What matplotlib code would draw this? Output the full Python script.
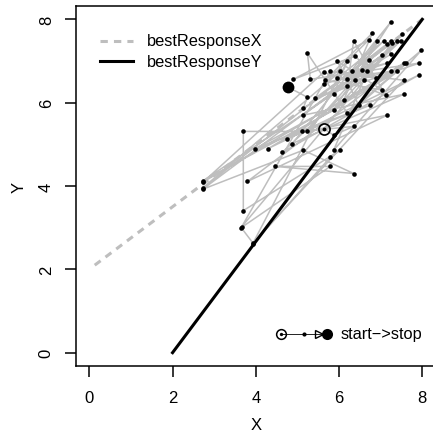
import numpy as np
import matplotlib
matplotlib.use("Agg")
import matplotlib.pyplot as plt

plt.rcParams["font.family"] = ["Liberation Sans", "DejaVu Sans"]

# best response lines
brx_x = [0.13, 8.0]
brx_y = [2.10, 8.0]
bry_x = [2.0, 8.0]
bry_y = [0.0, 8.0]

# path of play (start -> stop)
path_x = [5.63, 5.87, 6.35, 5.12, 3.70, 3.70, 6.03, 5.79, 3.94, 3.65,
          5.79, 4.47, 6.35, 5.14, 2.72, 6.56, 5.24, 7.16, 3.80, 7.55,
          4.76, 6.75, 3.99, 7.40, 4.30, 7.91, 4.64, 7.48, 5.14, 7.55,
          4.88, 7.24, 5.87, 2.74, 6.68, 5.87, 7.98, 6.20, 5.24, 5.31,
          7.93, 5.43, 7.52, 6.11, 6.80, 5.67, 7.04, 5.96, 6.47, 7.62,
          2.74, 5.63, 7.12, 6.35, 6.20, 7.40, 3.66, 5.79, 7.55, 3.94,
          6.20, 5.87, 7.24, 2.72, 6.03, 6.88, 6.39, 4.90, 6.71, 5.63,
          7.16, 6.32, 7.07, 5.96, 7.24, 6.39, 6.92, 6.20, 7.04, 6.59,
          7.28, 6.71, 7.16, 7.24, 5.14, 5.24, 4.78]
path_y = [5.38, 5.22, 5.43, 5.31, 5.31, 3.41, 4.86, 4.69, 2.62, 3.00,
          4.47, 4.47, 4.30, 4.86, 3.92, 6.78, 5.31, 5.70, 4.11, 6.95,
          5.14, 5.94, 4.90, 6.75, 4.90, 6.66, 4.81, 7.48, 5.70, 6.20,
          5.02, 7.93, 5.82, 4.13, 6.75, 4.86, 7.26, 5.75, 7.19, 6.56,
          6.95, 6.11, 7.64, 6.06, 7.67, 6.54, 6.30, 7.00, 5.94, 6.95,
          4.10, 6.73, 6.18, 7.48, 6.39, 7.48, 3.02, 6.75, 6.54, 2.64,
          7.00, 6.20, 7.48, 3.95, 6.75, 6.59, 7.12, 6.56, 7.50, 6.44,
          6.95, 6.75, 7.48, 6.59, 6.75, 6.54, 7.48, 6.56, 7.14, 6.54,
          7.43, 7.02, 7.40, 7.16, 5.87, 6.13, 6.37]

ticks = [0, 2, 4, 6, 8]

fig = plt.figure(figsize=(4.33, 4.39), dpi=100)
ax = fig.add_axes([76 / 433, 72 / 439, 359.6 / 433, 360 / 439])

ax.plot(brx_x, brx_y, color="#BEBEBE", lw=2.2, ls=(0, (2.4, 2.0)), zorder=1)
ax.plot(bry_x, bry_y, color="black", lw=2.2, zorder=3)

ax.plot(path_x, path_y, color="#BEBEBE", lw=1.1, zorder=2)
ax.plot(path_x[1:-1], path_y[1:-1], "o", color="black", ms=3.3, mew=0, zorder=4)

# start and stop markers
ax.plot(path_x[0], path_y[0], "o", mfc="none", mec="black", ms=8, mew=1.2, zorder=5)
ax.plot(path_x[0], path_y[0], "o", color="black", ms=2.8, mew=0, zorder=5)
ax.plot(path_x[-1], path_y[-1], "o", color="black", ms=8.5, mew=0, zorder=5)

# legends
ax.plot([0.067, 0.159], [0.903, 0.903], transform=ax.transAxes,
        color="#BEBEBE", lw=2.2, ls=(0, (2.4, 2.0)))
ax.plot([0.067, 0.159], [0.847, 0.847], transform=ax.transAxes,
        color="black", lw=2.2)
ax.text(0.197, 0.903, "bestResponseX", transform=ax.transAxes,
        fontsize=11.8, va="center", ha="left")
ax.text(0.197, 0.847, "bestResponseY", transform=ax.transAxes,
        fontsize=11.8, va="center", ha="left")

ly = 0.089
ax.plot([0.570, 0.698], [ly, ly], transform=ax.transAxes, color="black", lw=0.6)
ax.plot(0.570, ly, "o", transform=ax.transAxes, mfc="none", mec="black", ms=7, mew=1.1)
ax.plot(0.570, ly, "o", transform=ax.transAxes, color="black", ms=2.4, mew=0)
ax.plot(0.634, ly, "o", transform=ax.transAxes, color="black", ms=3, mew=0)
ax.plot(0.675, ly, ">", transform=ax.transAxes, mfc="none", mec="black", ms=6, mew=1.0)
ax.plot(0.698, ly, "o", transform=ax.transAxes, color="black", ms=8, mew=0)
ax.text(0.737, ly, "start\u2212>stop", transform=ax.transAxes,
        fontsize=11.8, va="center", ha="left")

ax.set_xlim(-0.32, 8.32)
ax.set_ylim(-0.32, 8.32)
ax.set_xticks(ticks)
ax.set_yticks(ticks)
ax.tick_params(length=8, width=1.1, labelsize=12)
ax.tick_params(axis="x", pad=9)
ax.tick_params(axis="y", pad=8)
for lbl in ax.get_yticklabels():
    lbl.set_rotation(90)
    lbl.set_va("center")
for sp in ax.spines.values():
    sp.set_linewidth(1.1)

ax.set_xlabel("X", fontsize=12, labelpad=9)
ax.set_ylabel("Y", fontsize=12, labelpad=9)

fig.savefig("out.png", dpi=100)
